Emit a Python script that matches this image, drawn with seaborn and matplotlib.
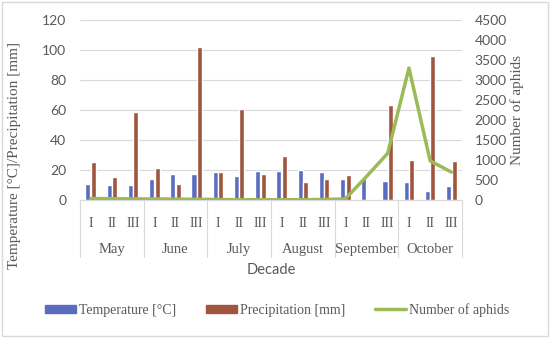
import numpy as np
import pandas as pd
import matplotlib.pyplot as plt
import seaborn as sns
from matplotlib.patches import Patch, Rectangle
from matplotlib.lines import Line2D
import matplotlib.transforms as mtransforms

# ── Data ──────────────────────────────────────────────────────────────────────
months = ["May", "June", "July", "August", "September", "October"]
decades = ["I", "II", "III"]
temperature = [10.7, 10.2, 10.2, 14.1, 17.5, 17.5, 18.4, 16.1, 19.1,
               19.5, 19.8, 18.4, 14.3, 15.0, 12.7, 12.3, 5.9, 9.5]
precipitation = [25.2, 15.2, 59.0, 21.1, 10.7, 102.0, 18.4, 61.0, 17.5,
                 29.5, 11.8, 13.9, 16.6, 0.5, 63.5, 26.6, 96.0, 26.1]
aphids = [40, 35, 30, 30, 25, 20, 15, 10, 10,
          10, 10, 15, 30, 590, 1170, 3300, 980, 700]

labels = [f"{m} {d}" for m in months for d in decades]
df = pd.DataFrame({
    "label": labels * 2,
    "value": temperature + precipitation,
    "series": ["Temperature [°C]"] * 18 + ["Precipitation [mm]"] * 18,
})

c_temp = "#5a6cc0"
c_prec = "#a0553f"
c_aph = "#9bbb59"
grey = "#595959"
serif = "Liberation Serif"
sans = "Lato"

# ── Plot ──────────────────────────────────────────────────────────────────────
sns.set_style("white")
fig = plt.figure(figsize=(5.5, 3.38), dpi=100)
ax = fig.add_axes([0.1455, 0.408, 0.6945, 0.533])

sns.barplot(data=df, x="label", y="value", hue="series", order=labels,
            palette=[c_temp, c_prec], width=0.52, gap=0.08, ax=ax,
            legend=False, saturation=1)
ax.set_ylim(0, 120)
ax.set_yticks(range(0, 121, 20))
ax.set_xlim(-0.5, 17.5)
ax.yaxis.grid(True, color="#d9d9d9", linewidth=0.8)
ax.set_axisbelow(True)
for s in ["top", "left", "right"]:
    ax.spines[s].set_visible(False)
ax.spines["bottom"].set_color("#d9d9d9")
ax.tick_params(axis="both", length=0)
ax.set_xticks(range(18))
ax.set_xticklabels(decades * 6, fontfamily=serif, fontsize=10, color=grey)
ax.tick_params(axis="x", pad=12)
for t in ax.get_yticklabels():
    t.set_fontfamily(sans)
    t.set_fontsize(10)
    t.set_color(grey)
ax.tick_params(axis="y", pad=10)
ax.set_xlabel("")
ax.set_ylabel("Temperature [°C]/Precipitation [mm]", fontfamily=serif,
              fontsize=11, color=grey)
ax.yaxis.set_label_coords(-0.155, 0.25)

# month labels and separators below the axis
trans = mtransforms.blended_transform_factory(ax.transData, ax.transAxes)
for i, m in enumerate(months):
    ax.text(i * 3 + 1, -0.272, m, transform=trans, ha="center", va="center",
            fontfamily=serif, fontsize=10.5, color=grey)
for b in np.arange(-0.5, 18, 3):
    ax.add_line(Line2D([b, b], [0, -0.317], transform=trans, color="#d9d9d9",
                       linewidth=0.8, clip_on=False))
ax.text(0.5, -0.389, "Decade", transform=ax.transAxes, ha="center", va="center",
        fontfamily=sans, fontsize=10.5, color=grey)

# aphids on the secondary axis
ax2 = ax.twinx()
sns.lineplot(x=np.arange(18), y=aphids, ax=ax2, color=c_aph, linewidth=2.5)
ax2.set_ylim(0, 4500)
ax2.set_yticks(range(0, 4501, 500))
for s in ax2.spines.values():
    s.set_visible(False)
ax2.tick_params(axis="y", length=0, pad=9)
for t in ax2.get_yticklabels():
    t.set_fontfamily(sans)
    t.set_fontsize(10)
    t.set_color(grey)
ax2.set_ylabel("Number of aphids", fontfamily=serif, fontsize=11,
               color=grey)
ax2.yaxis.set_label_coords(1.125, 0.5)

handles = [Patch(color=c_temp), Patch(color=c_prec),
           Line2D([], [], color=c_aph, linewidth=2.5)]
fig.legend(handles, ["Temperature [°C]", "Precipitation [mm]", "Number of aphids"],
           loc="center", bbox_to_anchor=(0.504, 0.083), ncol=3, frameon=False,
           prop={"family": serif, "size": 10}, handlelength=2.2,
           handleheight=0.6, columnspacing=2.2, handletextpad=0.2,
           labelcolor=grey)

fig.add_artist(Rectangle((0.004, 0.006), 0.992, 0.988, transform=fig.transFigure,
                         fill=False, edgecolor="#d9d9d9", linewidth=1))

fig.savefig("out.png", dpi=100)
